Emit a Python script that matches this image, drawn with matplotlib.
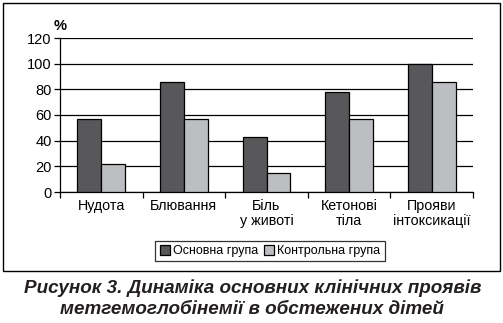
import matplotlib
matplotlib.use('Agg')
import matplotlib.pyplot as plt
import numpy as np
from matplotlib.patches import Rectangle

plt.rcParams['font.family'] = ['Liberation Sans', 'DejaVu Sans']

categories = ['Нудота', 'Блювання', 'Біль\nу животі', 'Кетонові\nтіла', 'Прояви\nінтоксикації']
main_group = [57, 86, 43, 78, 100]
control_group = [22, 57, 15, 57, 86]
series_names = ['Основна група', 'Контрольна група']
yticks = [0, 20, 40, 60, 80, 100, 120]

W, H = 503, 323
fig = plt.figure(figsize=(W / 100, H / 100), dpi=100)

# outer frame
fig.patches.append(Rectangle((3 / W, (H - 271) / H), 497 / W, 268 / H,
                             transform=fig.transFigure, fill=False,
                             edgecolor='black', linewidth=1.0))

ax = fig.add_axes([60 / W, (H - 192) / H, 413 / W, 154 / H])
x = np.arange(len(categories))
bw = 0.29
ax.bar(x - bw / 2, main_group, bw, color='#58585a', edgecolor='black',
       linewidth=0.9, label=series_names[0], zorder=3)
ax.bar(x + bw / 2, control_group, bw, color='#bdbec1', edgecolor='black',
       linewidth=0.9, label=series_names[1], zorder=3)

ax.set_xlim(-0.5, len(categories) - 0.5)
ax.set_ylim(0, 120)
ax.set_yticks(yticks)
ax.yaxis.grid(True, color='black', linewidth=0.9, zorder=0)
ax.set_axisbelow(True)
for s in ['top', 'right']:
    ax.spines[s].set_visible(False)
ax.spines['left'].set_linewidth(0.9)
ax.spines['bottom'].set_linewidth(0.9)

ax.set_xticks(np.arange(len(categories) + 1) - 0.5, minor=True)
ax.set_xticks(x)
ax.set_xticklabels(categories, fontsize=10.3, linespacing=1.1)
ax.tick_params(axis='x', which='major', length=0, pad=5)
ax.tick_params(axis='x', which='minor', length=4, direction='out', width=0.9)
ax.tick_params(axis='y', length=4, direction='out', width=0.9, labelsize=10.5, pad=2)

ax.text(0.0, 1.035, '%', transform=ax.transAxes, fontsize=10.5,
        fontweight='bold', ha='center', va='bottom')

leg = fig.legend(loc='center', bbox_to_anchor=(270 / W, (H - 251) / H),
                 ncol=2, fontsize=9, frameon=True, fancybox=False,
                 handlelength=0.8, handleheight=0.8, handletextpad=0.3,
                 columnspacing=0.4, borderpad=0.35, borderaxespad=0)
leg.get_frame().set_edgecolor('black')
leg.get_frame().set_linewidth(0.9)

fig.text(0.503, (H - 288) / H, 'Рисунок 3. Динаміка основних клінічних проявів',
         ha='center', va='center', fontsize=13.6, fontweight='bold',
         fontstyle='italic', color='#231f20')
fig.text(0.5, (H - 309) / H, 'метгемоглобінемії в обстежених дітей',
         ha='center', va='center', fontsize=13.6, fontweight='bold',
         fontstyle='italic', color='#231f20')

fig.savefig('out.png', dpi=100)
